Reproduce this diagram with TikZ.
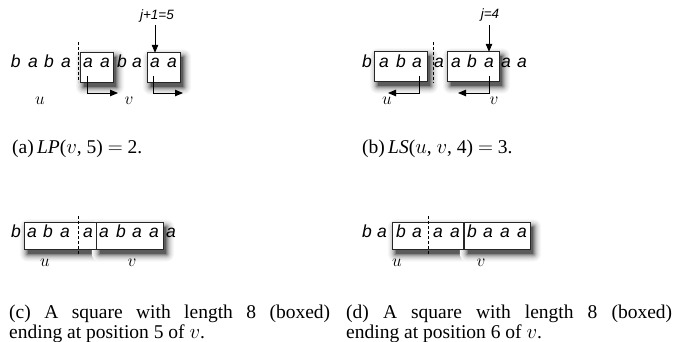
\documentclass[tikz,border=0pt]{standalone}
\usepackage{fontspec}
\setmainfont{Liberation Serif}
\newfontfamily\lettfont{Liberation Sans}
\usetikzlibrary{arrows.meta}
\tikzset{
  lt/.style={font=\lettfont\itshape\fontsize{17.5}{17.5}\selectfont, inner sep=0pt, anchor=base},
  jlab/.style={font=\lettfont\itshape\fontsize{13.5}{13.5}\selectfont, inner sep=0pt},
  uv/.style={font=\fontsize{18}{18}\selectfont, inner sep=0pt},
  capt/.style={font=\fontsize{19.5}{21}\selectfont, inner sep=0pt, anchor=base west},
  sqbox/.style={draw=black!85, line width=0.9pt, fill=white, inner sep=0pt},
  dashline/.style={line width=0.6pt, dash pattern=on 3pt off 2pt},
  arr/.style={line width=0.9pt, -{Triangle[length=8pt,width=6.5pt]}},
}
\newcommand\myshadow[1]{%
  \foreach \k/\g in {8/3,7/6,6/10,5/15,4/21,3/29,2/39,1/51,0/64}
    \fill[black!\g, rounded corners=\k pt]
      ([shift={(3-\k,4.5-\k)}]#1.north west) rectangle ([shift={(3+\k,4.5+\k)}]#1.south east);}
\begin{document}
\begin{tikzpicture}[x=1pt,y=-1pt]
\useasboundingbox (0,0) rectangle (683,342);
% ---------- box nodes (placed first, to put shadows behind)
\path
  (97,67.5) node[minimum width=32pt, minimum height=29pt] (a1) {}
  (164,67.5) node[minimum width=32pt, minimum height=29pt] (a2) {}
  (401,66.5) node[minimum width=52pt, minimum height=29pt] (b1) {}
  (473.5,66.5) node[minimum width=51pt, minimum height=29pt] (b2) {}
  (60.5,236) node[minimum width=71pt, minimum height=26pt] (c1) {}
  (130,236) node[minimum width=66pt, minimum height=26pt] (c2) {}
  (428,236) node[minimum width=70pt, minimum height=26pt] (d1) {}
  (497.5,236) node[minimum width=65pt, minimum height=26pt] (d2) {};
\foreach \b in {a1,a2,b1,b2,c1,c2,d1,d2} {\myshadow{\b}}
\foreach \b in {a1,a2,b1,b2,c1,c2,d1,d2}
  \draw[sqbox] (\b.north west) rectangle (\b.south east);
% ---------- panel (a)
\foreach \x/\c [count=\i] in {15.7/b,33/a,49/b,66/a,88/a,105/a,122/b,137/a,155/a,172/a}
  \node[lt] (pa\i) at (\x,68) {\c};
\coordinate (da1) at (78,42); \coordinate (da2) at (78,82);
\draw[dashline] (da1) -- (da2);
\node[jlab] (ja) at (157,16) {j+1=5};
\coordinate (ta) at (155,25);
\draw[arr] (ta) -- (ta |- a2.north);
\coordinate (sa1) at (87,76); \coordinate (ea1) at (118,93);
\coordinate (sa2) at (153,76); \coordinate (ea2) at (183,93);
\draw[arr] (sa1) |- (ea1);
\draw[arr] (sa2) |- (ea2);
\node[uv] (ua) at (40,101) {$u$};
\node[uv] (va) at (129,101) {$v$};
% ---------- panel (b)
\foreach \x/\c [count=\i] in {367/b,384/a,401/b,417/a,439/a,456/a,472/b,489/a,506/a,522/a}
  \node[lt] (pb\i) at (\x,68) {\c};
\coordinate (db1) at (433,42); \coordinate (db2) at (433,83);
\draw[dashline] (db1) -- (db2);
\node[jlab] (jb) at (490,15) {j=4};
\coordinate (tb) at (489,25);
\draw[arr] (tb) -- (tb |- b2.north);
\coordinate (sb1) at (419,76); \coordinate (eb1) at (388,93);
\coordinate (sb2) at (489,76); \coordinate (eb2) at (458,93);
\draw[arr] (sb1) |- (eb1);
\draw[arr] (sb2) |- (eb2);
\node[uv] (ub) at (387,101) {$u$};
\node[uv] (vb) at (494,101) {$v$};
% ---------- panel (c)
\foreach \x/\c [count=\i] in {16/b,32/a,48/b,65/a,88/a,104/a,121/b,137/a,154/a,171/a}
  \node[lt] (pc\i) at (\x,237) {\c};
\coordinate (dc1) at (78,216); \coordinate (dc2) at (78,254);
\draw[dashline] (dc1) -- (dc2);
\node[uv] (uc) at (45,263) {$u$};
\node[uv] (vc) at (132,263) {$v$};
% ---------- panel (d)
\foreach \x/\c [count=\i] in {367/b,382/a,401/b,417/a,438/a,455/a,472/b,488/a,505/a,522/a}
  \node[lt] (pd\i) at (\x,237) {\c};
\coordinate (dd1) at (428,216); \coordinate (dd2) at (428,254);
\draw[dashline] (dd1) -- (dd2);
\node[uv] (ud) at (397,263) {$u$};
\node[uv] (vd) at (481,263) {$v$};
% ---------- captions
\node[capt] (capa) at (12,154) {(a)\,\textit{LP}($v$, 5) $=$ 2.};
\node[capt] (capb) at (362,154) {(b)\,\textit{LS}($u$, $v$, 4) $=$ 3.};
\node[capt] (capc1) at (9,318) {\makebox[321pt][s]{(c) A square with length 8 (boxed)}};
\node[capt] (capc2) at (9,338) {ending at position 5 of $v$.};
\node[capt] (capd1) at (346,318) {\makebox[326pt][s]{(d) A square with length 8 (boxed)}};
\node[capt] (capd2) at (346,338) {ending at position 6 of $v$.};
\end{tikzpicture}
\end{document}
